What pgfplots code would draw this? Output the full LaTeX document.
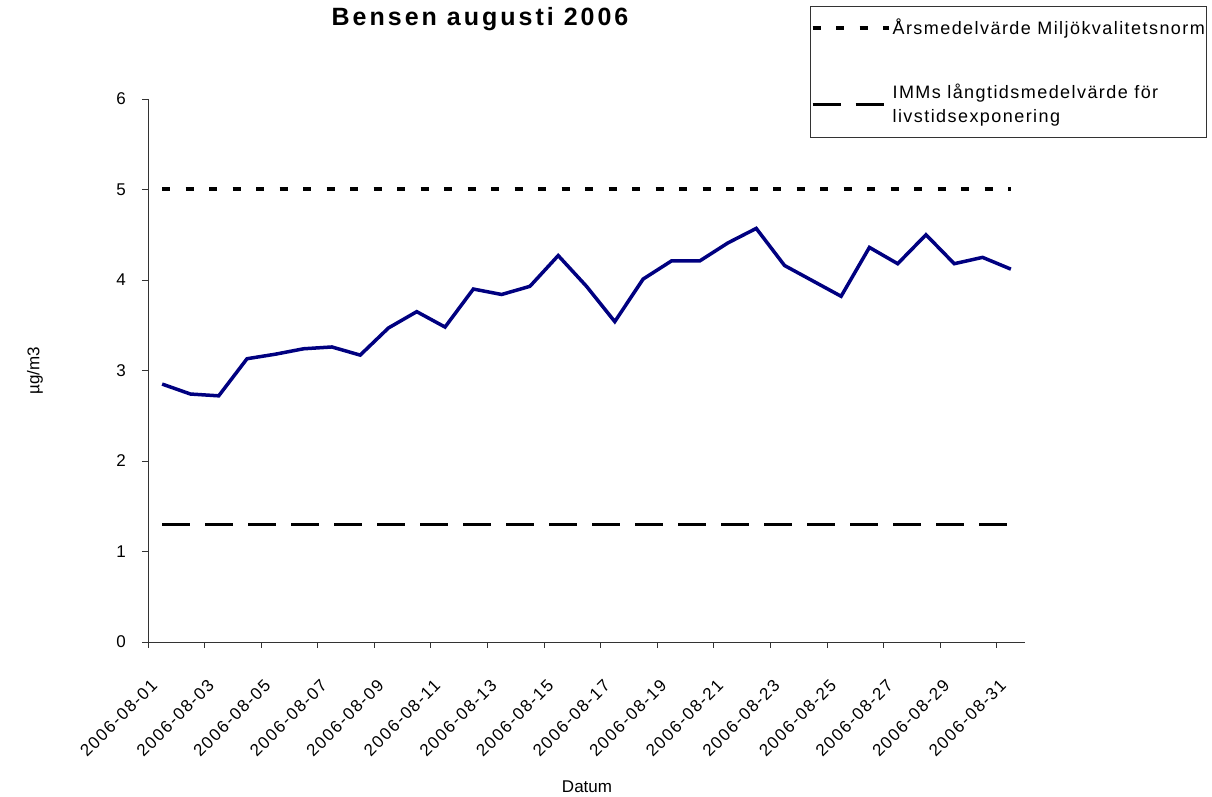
\documentclass[border=0pt]{standalone}
\usepackage{fontspec}
\setmainfont{Liberation Sans}
\newfontfamily\tickfont[LetterSpace=9]{Liberation Sans}
\newfontfamily\legfont[LetterSpace=8]{Liberation Sans}
\newfontfamily\titlefont[LetterSpace=12]{Liberation Sans}
\usepackage{pgfplots}
\pgfplotsset{compat=1.18}
\definecolor{navyline}{RGB}{0,0,128}
\pgfplotstableread{
day val
1 2.85
2 2.74
3 2.72
4 3.13
5 3.18
6 3.24
7 3.26
8 3.17
9 3.47
10 3.65
11 3.48
12 3.90
13 3.84
14 3.93
15 4.27
16 3.93
17 3.54
18 4.01
19 4.21
20 4.21
21 4.41
22 4.57
23 4.16
24 3.99
25 3.82
26 4.36
27 4.18
28 4.50
29 4.18
30 4.25
31 4.12
}\bensen
\begin{document}
\begin{tikzpicture}
\useasboundingbox (0pt,0pt) rectangle (1212pt,797pt);
\begin{axis}[
  at={(148pt,155pt)}, anchor=south west,
  scale only axis, width=877pt, height=543pt,
  xmin=0.5, xmax=31.5, ymin=0, ymax=6,
  axis lines*=left,
  axis line style={black!80, line width=0.9pt},
  tick style={black!80, line width=0.9pt},
  tick align=outside, major tick length=6pt,
  xtick={0.5,2.5,...,30.5},
  xticklabels={2006-08-01,2006-08-03,2006-08-05,2006-08-07,2006-08-09,2006-08-11,2006-08-13,2006-08-15,2006-08-17,2006-08-19,2006-08-21,2006-08-23,2006-08-25,2006-08-27,2006-08-29,2006-08-31},
  xticklabel style={font=\fontsize{17}{19}\tickfont, inner sep=0pt, xshift=2pt, yshift=-30pt, rotate=45, anchor=north east},
  ytick={0,1,...,6},
  yticklabel style={font=\fontsize{17}{19}\selectfont, inner sep=0pt, xshift=-16pt, anchor=east},
  /pgf/number format/assume math mode=true,
  title={\titlefont\bfseries Bensen augusti 2006},
  title style={font=\fontsize{25}{28}\selectfont, at={(axis description cs:0.3786,1.1252)}, anchor=base},
  xlabel={Datum},
  xlabel style={font=\fontsize{17}{19}\selectfont, at={(axis description cs:0.5006,-0.267)}, anchor=center},
  ylabel={µg/m3},
  ylabel style={font=\fontsize{17}{19}\selectfont, at={(axis description cs:-0.129,0.5)}, anchor=center},
  legend style={at={(axis description cs:0.755,1.172)}, anchor=north west,
    draw=black!80, line width=0.9pt, fill=white,
    font=\fontsize{18}{24}\legfont,
    inner xsep=0pt, inner ysep=11pt,
    cells={anchor=west, align=left},
    row sep=44pt},
  legend image code/.code={\draw[#1] (0pt,0pt) -- (76pt,0pt);},
  clip=false,
]
\addplot[black, line width=4pt, dash pattern=on 8pt off 15.5pt] coordinates {(1,5) (31,5)};
\addlegendentry{Årsmedelvärde Miljökvalitetsnorm}
\addplot[black, line width=3.5pt, dash pattern=on 28pt off 15pt] coordinates {(1,1.3) (31,1.3)};
\addlegendentry{IMMs långtidsmedelvärde för\\livstidsexponering}
\addplot[navyline, line width=3.5pt, line join=miter, forget plot] table[x=day, y=val] {\bensen};
\end{axis}
\end{tikzpicture}
\end{document}
